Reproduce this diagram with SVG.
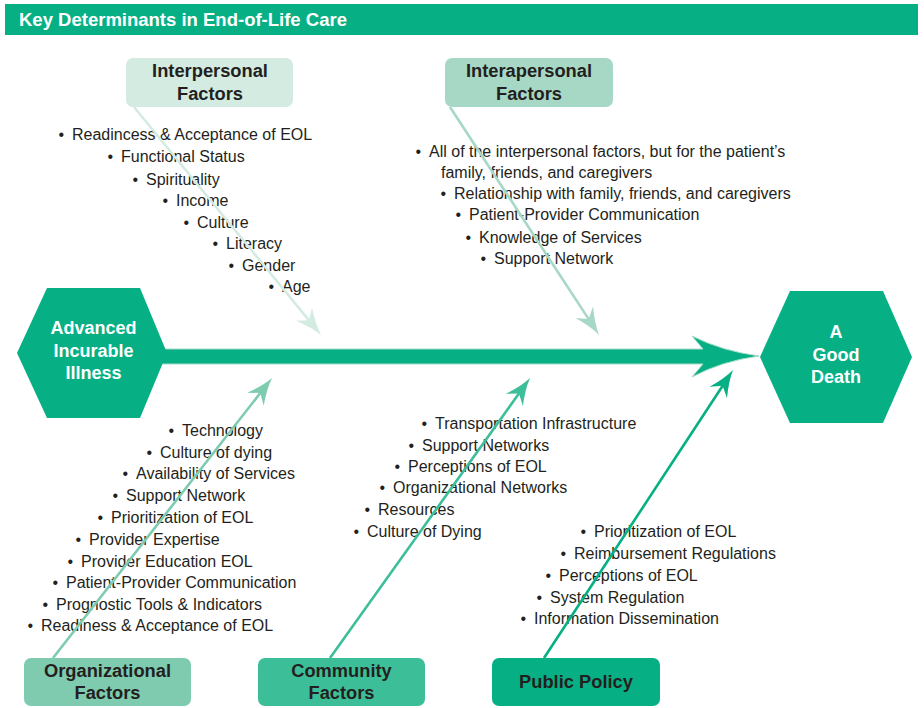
<svg xmlns="http://www.w3.org/2000/svg" width="924" height="708" viewBox="0 0 924 708">
<style>
.t{font-family:"Liberation Sans",Arial,sans-serif;font-size:16px;fill:#231f20}
.lb{font-family:"Liberation Sans",Arial,sans-serif;font-size:18.3px;font-weight:bold;fill:#231f20;text-anchor:middle}
.hx{font-family:"Liberation Sans",Arial,sans-serif;font-size:18px;font-weight:bold;fill:#ffffff;text-anchor:middle}
.ttl{font-family:"Liberation Sans",Arial,sans-serif;font-size:18.5px;font-weight:bold;fill:#ffffff}
.ln{fill:none;stroke-width:2.6}
</style>
<defs>
<marker id="m1" markerUnits="userSpaceOnUse" orient="auto" refX="0" refY="0" markerWidth="30" markerHeight="30" overflow="visible"><path d="M15,0 Q3,-2.5 -12,-10.5 L-4,0 L-12,10.5 Q3,2.5 15,0 Z" fill="#d3ebe1"/></marker>
<marker id="m2" markerUnits="userSpaceOnUse" orient="auto" refX="0" refY="0" markerWidth="30" markerHeight="30" overflow="visible"><path d="M15,0 Q3,-2.5 -12,-10.5 L-4,0 L-12,10.5 Q3,2.5 15,0 Z" fill="#a7d8c6"/></marker>
<marker id="m3" markerUnits="userSpaceOnUse" orient="auto" refX="0" refY="0" markerWidth="30" markerHeight="30" overflow="visible"><path d="M15,0 Q3,-2.5 -12,-10.5 L-4,0 L-12,10.5 Q3,2.5 15,0 Z" fill="#7ecbb0"/></marker>
<marker id="m4" markerUnits="userSpaceOnUse" orient="auto" refX="0" refY="0" markerWidth="30" markerHeight="30" overflow="visible"><path d="M15,0 Q3,-2.5 -12,-10.5 L-4,0 L-12,10.5 Q3,2.5 15,0 Z" fill="#3cbf99"/></marker>
<marker id="m5" markerUnits="userSpaceOnUse" orient="auto" refX="0" refY="0" markerWidth="30" markerHeight="30" overflow="visible"><path d="M15,0 Q3,-2.5 -12,-10.5 L-4,0 L-12,10.5 Q3,2.5 15,0 Z" fill="#06b084"/></marker>
</defs>
<rect width="924" height="708" fill="#ffffff"/>
<g id="title">
<rect x="5" y="4" width="913" height="31" fill="#06b084"/>
<text class="ttl" x="19" y="26">Key Determinants in End-of-Life Care</text>
</g>

<g id="list-interpersonal">
<text class="t" y="140"><tspan x="58.5">•</tspan><tspan x="72">Readincess &amp; Acceptance of EOL</tspan></text>
<text class="t" y="162"><tspan x="107.5">•</tspan><tspan x="121">Functional Status</tspan></text>
<text class="t" y="185"><tspan x="132.5">•</tspan><tspan x="146">Spirituality</tspan></text>
<text class="t" y="206"><tspan x="162.5">•</tspan><tspan x="176">Income</tspan></text>
<text class="t" y="228"><tspan x="183.5">•</tspan><tspan x="197">Culture</tspan></text>
<text class="t" y="249"><tspan x="212.5">•</tspan><tspan x="226">Literacy</tspan></text>
<text class="t" y="271"><tspan x="228.5">•</tspan><tspan x="242">Gender</tspan></text>
<text class="t" y="292"><tspan x="268.5">•</tspan><tspan x="282">Age</tspan></text>
</g>
<g id="list-interapersonal">
<text class="t" y="157"><tspan x="415.5">•</tspan><tspan x="429">All of the interpersonal factors, but for the patient’s</tspan></text>
<text class="t" x="441" y="178">family, friends, and caregivers</text>
<text class="t" y="199"><tspan x="440.5">•</tspan><tspan x="454">Relationship with family, friends, and caregivers</tspan></text>
<text class="t" y="220"><tspan x="455.5">•</tspan><tspan x="469">Patient-Provider Communication</tspan></text>
<text class="t" y="243"><tspan x="465.5">•</tspan><tspan x="479">Knowledge of Services</tspan></text>
<text class="t" y="264"><tspan x="480.5">•</tspan><tspan x="494">Support Network</tspan></text>
</g>
<g id="list-organizational">
<text class="t" y="436"><tspan x="168.5">•</tspan><tspan x="182">Technology</tspan></text>
<text class="t" y="458"><tspan x="146.5">•</tspan><tspan x="160">Culture of dying</tspan></text>
<text class="t" y="479"><tspan x="122.5">•</tspan><tspan x="136">Availability of Services</tspan></text>
<text class="t" y="501"><tspan x="112.5">•</tspan><tspan x="126">Support Network</tspan></text>
<text class="t" y="523"><tspan x="97.5">•</tspan><tspan x="111">Prioritization of EOL</tspan></text>
<text class="t" y="545"><tspan x="75.5">•</tspan><tspan x="89">Provider Expertise</tspan></text>
<text class="t" y="567"><tspan x="67.5">•</tspan><tspan x="81">Provider Education EOL</tspan></text>
<text class="t" y="588"><tspan x="52.5">•</tspan><tspan x="66">Patient-Provider Communication</tspan></text>
<text class="t" y="610"><tspan x="42.5">•</tspan><tspan x="56">Prognostic Tools &amp; Indicators</tspan></text>
<text class="t" y="631"><tspan x="27.5">•</tspan><tspan x="41">Readiness &amp; Acceptance of EOL</tspan></text>
</g>
<g id="list-community">
<text class="t" y="429"><tspan x="421.5">•</tspan><tspan x="435">Transportation Infrastructure</tspan></text>
<text class="t" y="451"><tspan x="408.5">•</tspan><tspan x="422">Support Networks</tspan></text>
<text class="t" y="472"><tspan x="394.5">•</tspan><tspan x="408">Perceptions of EOL</tspan></text>
<text class="t" y="493"><tspan x="379.5">•</tspan><tspan x="393">Organizational Networks</tspan></text>
<text class="t" y="515"><tspan x="364.5">•</tspan><tspan x="378">Resources</tspan></text>
<text class="t" y="537"><tspan x="353.5">•</tspan><tspan x="367">Culture of Dying</tspan></text>
</g>
<g id="list-policy">
<text class="t" y="537"><tspan x="580.5">•</tspan><tspan x="594">Prioritization of EOL</tspan></text>
<text class="t" y="559"><tspan x="560.5">•</tspan><tspan x="574">Reimbursement Regulations</tspan></text>
<text class="t" y="581"><tspan x="545.5">•</tspan><tspan x="559">Perceptions of EOL</tspan></text>
<text class="t" y="603"><tspan x="536.5">•</tspan><tspan x="550">System Regulation</tspan></text>
<text class="t" y="624"><tspan x="520.5">•</tspan><tspan x="534">Information Dissemination</tspan></text>
</g>

<g id="connectors">
<path id="spine" d="M160,349 L703,349 L692,336 Q722,351 759,356 Q722,361 692,377 L703,364 L160,364 Z" fill="#06b084" stroke="#a6dcc9" stroke-width="1"/>
<line class="ln" x1="134" y1="107" x2="311.5" y2="323.4" stroke="#d3ebe1" marker-end="url(#m1)"/>
<line class="ln" x1="450" y1="107" x2="590.8" y2="322.4" stroke="#a7d8c6" marker-end="url(#m2)"/>
<line class="ln" x1="53" y1="658" x2="262.8" y2="389.8" stroke="#7ecbb0" marker-end="url(#m3)"/>
<line class="ln" x1="330" y1="658" x2="521.3" y2="390.2" stroke="#3cbf99" marker-end="url(#m4)"/>
<line class="ln" x1="544" y1="658" x2="724.8" y2="382.5" stroke="#06b084" marker-end="url(#m5)"/>
</g>

<g id="interpersonal">
<rect x="126" y="58" width="167" height="49" rx="7" fill="#d3ebe1"/>
<text class="lb" x="210" y="77">Interpersonal</text>
<text class="lb" x="210" y="100">Factors</text>
</g>
<g id="interapersonal">
<rect x="445" y="58" width="168" height="49" rx="7" fill="#a7d8c6"/>
<text class="lb" x="529" y="77">Interapersonal</text>
<text class="lb" x="529" y="100">Factors</text>
</g>
<g id="organizational">
<rect x="24" y="658" width="167" height="48" rx="7" fill="#7ecbb0"/>
<text class="lb" x="107.5" y="677">Organizational</text>
<text class="lb" x="107.5" y="699">Factors</text>
</g>
<g id="community">
<rect x="258" y="658" width="167" height="48" rx="7" fill="#3cbf99"/>
<text class="lb" x="341.5" y="677">Community</text>
<text class="lb" x="341.5" y="699">Factors</text>
</g>
<g id="public-policy">
<rect x="492" y="658" width="168" height="48" rx="7" fill="#06b084"/>
<text class="lb" x="576" y="688">Public Policy</text>
</g>
<g id="illness">
<polygon points="17,353 47,288 140,288 167,353 140,418 47,418" fill="#06b084"/>
<text class="hx" x="93.5" y="334">Advanced</text>
<text class="hx" x="93.5" y="357">Incurable</text>
<text class="hx" x="93.5" y="379">Illness</text>
</g>
<g id="good-death">
<polygon points="760,357 790,291 883,291 912,357 883,423 790,423" fill="#06b084"/>
<text class="hx" x="836" y="338">A</text>
<text class="hx" x="836" y="361">Good</text>
<text class="hx" x="836" y="383">Death</text>
</g>
</svg>
